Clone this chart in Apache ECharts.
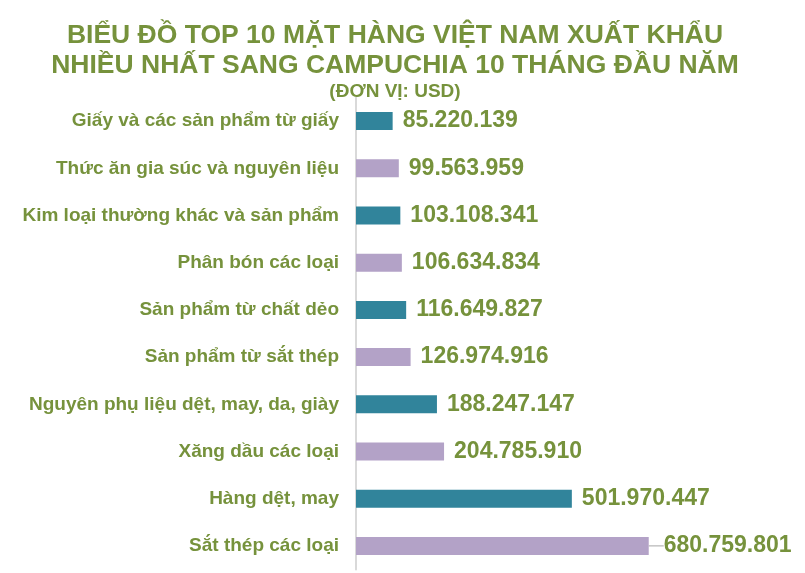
<!DOCTYPE html>
<html><head><meta charset="utf-8">
<script src="https://cdn.jsdelivr.net/npm/echarts@6/dist/echarts.min.js"></script>
<style>html,body{margin:0;padding:0;background:#fff}#c{width:805px;height:573px}</style>
</head><body><div id="c"></div>
<script>
const categories = [
  "Giấy và các sản phẩm từ giấy",
  "Thức ăn gia súc và nguyên liệu",
  "Kim loại thường khác và sản phẩm",
  "Phân bón các loại",
  "Sản phẩm từ chất dẻo",
  "Sản phẩm từ sắt thép",
  "Nguyên phụ liệu dệt, may, da, giày",
  "Xăng dầu các loại",
  "Hàng dệt, may",
  "Sắt thép các loại"
];
const values = [85220139, 99563959, 103108341, 106634834, 116649827, 126974916, 188247147, 204785910, 501970447, 680759801];
const colors = ["#31849B", "#B3A2C7"];
const olive = "#76923C";

function fmt(v){ return String(v).replace(/\B(?=(\d{3})+(?!\d))/g, "."); }

const chart = echarts.init(document.getElementById('c'));
chart.setOption({
  animation: false,
  title: {
    text: "BIỂU ĐỒ TOP 10 MẶT HÀNG VIỆT NAM XUẤT KHẨU\nNHIỀU NHẤT SANG CAMPUCHIA 10 THÁNG ĐẦU NĂM",
    subtext: "(ĐƠN VỊ: USD)",
    left: 390, textAlign: 'center', top: 16,
    itemGap: 1,
    textStyle: {fontFamily: 'Liberation Sans, Arial', fontWeight: 'bold', fontSize: 26.5, lineHeight: 30, color: olive},
    subtextStyle: {fontFamily: 'Liberation Sans, Arial', fontWeight: 'bold', fontSize: 19, color: olive}
  },
  grid: {left: 356, right: 105, top: 97.5, bottom: 3.5, containLabel: false},
  xAxis: {type: 'value', min: 0, max: 800000000, show: false},
  yAxis: {
    type: 'category', data: categories, inverse: true,
    axisTick: {show: false},
    axisLine: {lineStyle: {color: '#d9d9d9', width: 2}},
    axisLabel: {fontFamily: 'Liberation Sans, Arial', fontWeight: 'bold', fontSize: 19, color: olive, margin: 17}
  },
  series: [{
    type: 'bar', barWidth: 18,
    data: values.map((v, i) => ({
      value: v,
      itemStyle: {color: colors[i % 2]},
      labelLine: {show: i === values.length - 1, lineStyle: {color: '#a6a6a6', width: 1}}
    })),
    label: {
      show: true, position: 'right', distance: 10,
      formatter: p => fmt(p.value),
      fontFamily: 'Liberation Sans, Arial', fontWeight: 'bold', fontSize: 23, color: olive
    },
    labelLayout: function(p){ if (p.dataIndex === 9) return {dx: 5}; return {}; }
  }]
});
</script></body></html>
